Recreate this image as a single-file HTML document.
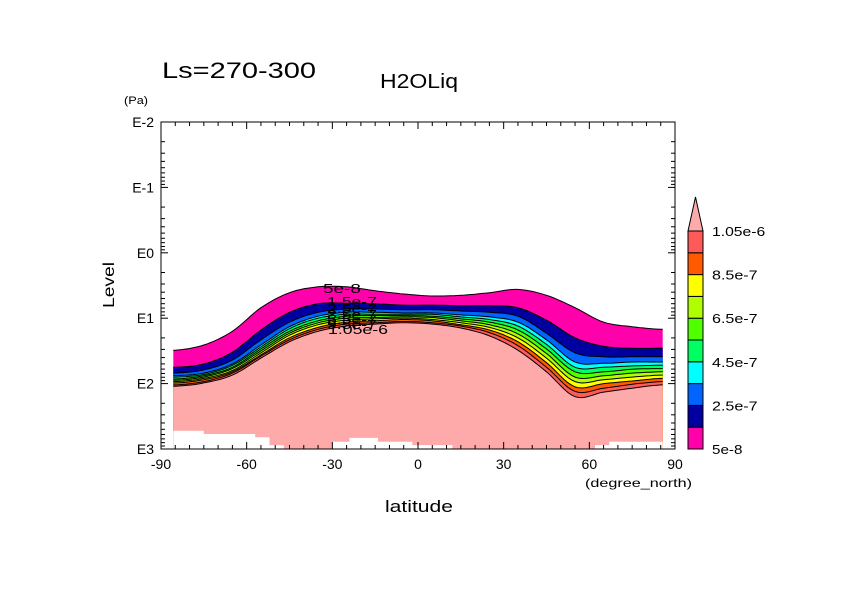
<!DOCTYPE html>
<html><head><meta charset="utf-8"><style>
html,body{margin:0;padding:0;background:#fff}
svg text{font-family:"Liberation Sans",sans-serif;fill:#000}
</style></head><body>
<svg id="chart" width="842" height="595" viewBox="0 0 842 595" xmlns="http://www.w3.org/2000/svg">
<text x="162" y="78" font-size="22" textLength="154" lengthAdjust="spacingAndGlyphs">Ls=270-300</text>
<text x="380" y="88" font-size="20" textLength="78" lengthAdjust="spacingAndGlyphs">H2OLiq</text>
<text x="124" y="104" font-size="11" textLength="24" lengthAdjust="spacingAndGlyphs">(Pa)</text>
<text x="0" y="0" font-size="16" textLength="46" lengthAdjust="spacingAndGlyphs" transform="translate(114,285) rotate(-90)" text-anchor="middle">Level</text>
<text x="385" y="512" font-size="17" textLength="68" lengthAdjust="spacingAndGlyphs">latitude</text>
<text x="585" y="487" font-size="12" textLength="107" lengthAdjust="spacingAndGlyphs">(degree_north)</text>
<g id="field"></g>
<g id="lines"></g>
<g id="labels">
<text x="323" y="293" font-size="13" textLength="38" lengthAdjust="spacingAndGlyphs">5e-8</text>
<text x="327" y="306" font-size="13" textLength="50" lengthAdjust="spacingAndGlyphs">1.5e-7</text>
<text x="327" y="313" font-size="13" textLength="50" lengthAdjust="spacingAndGlyphs">2.5e-7</text>
<text x="327" y="319" font-size="13" textLength="50" lengthAdjust="spacingAndGlyphs">3.5e-7</text>
<text x="327" y="324" font-size="13" textLength="50" lengthAdjust="spacingAndGlyphs">5.5e-7</text>
<text x="327" y="329" font-size="13" textLength="50" lengthAdjust="spacingAndGlyphs">9.5e-7</text>
<text x="328" y="334" font-size="13" textLength="60" lengthAdjust="spacingAndGlyphs">1.05e-6</text>
</g>
<rect x="161" y="122" width="514" height="327" fill="none" stroke="#000" stroke-width="1"/>
<g id="axes"></g>
<g id="cbar"></g>
</svg>
<script>
const lats = [-85,-75,-65,-55,-45,-35,-25,-15,-5,5,15,25,35,45,55,65,75,85];
// log10(Pa) of each contour level boundary (top of band)
const lev0  = [1.49,1.41,1.20,0.84,0.61,0.52,0.52,0.58,0.63,0.66,0.65,0.61,0.56,0.65,0.84,1.06,1.13,1.17];
const lev1  = [1.75,1.70,1.52,1.18,0.91,0.78,0.77,0.78,0.80,0.80,0.81,0.81,0.84,1.03,1.30,1.43,1.46,1.46];
const lev2  = [1.84,1.79,1.64,1.33,1.06,0.91,0.86,0.86,0.87,0.87,0.89,0.91,0.97,1.23,1.53,1.59,1.59,1.59];
const lev3  = [1.88,1.84,1.70,1.41,1.13,0.97,0.91,0.91,0.92,0.92,0.95,0.98,1.06,1.33,1.67,1.69,1.67,1.67];
const lev4  = [1.90,1.86,1.72,1.44,1.16,1.00,0.94,0.94,0.94,0.94,0.98,1.02,1.12,1.40,1.75,1.75,1.73,1.72];
const lev5  = [1.93,1.88,1.75,1.47,1.20,1.04,0.97,0.96,0.96,0.97,1.01,1.06,1.18,1.47,1.82,1.82,1.78,1.77];
const lev6  = [1.95,1.90,1.77,1.50,1.23,1.07,1.00,0.99,0.98,0.99,1.04,1.10,1.24,1.54,1.90,1.88,1.84,1.82];
const lev7  = [1.97,1.92,1.80,1.53,1.26,1.10,1.03,1.01,1.00,1.02,1.07,1.14,1.30,1.61,1.97,1.94,1.90,1.87];
const lev8  = [1.99,1.94,1.82,1.56,1.30,1.14,1.06,1.04,1.02,1.04,1.10,1.18,1.36,1.68,2.05,2.00,1.96,1.92];
const lev9  = [2.02,1.97,1.84,1.58,1.33,1.17,1.09,1.07,1.05,1.07,1.12,1.22,1.42,1.75,2.12,2.07,2.01,1.97];
const lev10 = [2.04,1.99,1.87,1.61,1.36,1.20,1.12,1.09,1.07,1.09,1.15,1.27,1.49,1.82,2.20,2.13,2.07,2.02];
const levelNames = ['5e-8','1.5e-7','2.5e-7','3.5e-7','4.5e-7','5.5e-7','6.5e-7','7.5e-7','8.5e-7','9.5e-7','1.05e-6'];
const colors = ['#ff00aa','#0000a0','#0064ff','#00ffff','#00ff60','#50ff00','#b0ff00','#ffff00','#ff5a00','#ff5a5a','#ffaaaa'];
// surface (topography) bottoms: lat edges and log10 Pa
const topoEdges = [-85.7,-75,-57,-52,-47,-30,-24,-14,-2,0,12,62,67,85.7];
const topoLogP  = [2.72,2.77,2.82,2.94,3.0,2.89,2.83,2.89,2.94,2.94,3.0,2.94,2.89];
const xTicks = [-90,-60,-30,0,30,60,90];
const xTickLabels = ['-90','-60','-30','0','30','60','90'];
const yTicks = [-2,-1,0,1,2,3];
const yTickLabels = ['E-2','E-1','E0','E1','E2','E3'];
const cbLabels = ['5e-8','2.5e-7','4.5e-7','6.5e-7','8.5e-7','1.05e-6'];

const levels = [lev0,lev1,lev2,lev3,lev4,lev5,lev6,lev7,lev8,lev9,lev10];
const X0=161,X1=675,Y0=122,Y1=449;
const xs = lat => X0 + (lat+90)/180*(X1-X0);
const ys = lp => Y0 + (lp+2)/5*(Y1-Y0);
const NS='http://www.w3.org/2000/svg';
function mk(tag, attrs, parent){const e=document.createElementNS(NS,tag);for(const k in attrs)e.setAttribute(k,attrs[k]);parent.appendChild(e);return e;}
const LATMIN=-85.7, LATMAX=85.7;
function curvePts(arr){
  const pts=[[xs(LATMIN),ys(arr[0])]];
  for(let i=0;i<lats.length;i++){
    if(i<lats.length-1){
      for(let t=0;t<1;t+=0.125){
        const p0=arr[Math.max(i-1,0)],p1=arr[i],p2=arr[i+1],p3=arr[Math.min(i+2,arr.length-1)];
        const v=0.5*((2*p1)+(-p0+p2)*t+(2*p0-5*p1+4*p2-p3)*t*t+(-p0+3*p1-3*p2+p3)*t*t*t);
        const la=lats[i]+(lats[i+1]-lats[i])*t;
        pts.push([xs(la),ys(v)]);
      }
    } else pts.push([xs(lats[i]),ys(arr[i])]);
  }
  pts.push([xs(LATMAX),ys(arr[arr.length-1])]);
  return pts;
}
const field=document.getElementById('field'), lines=document.getElementById('lines');
levels.forEach((arr,k)=>{
  const pts=curvePts(arr);
  const d='M'+pts.map(p=>p[0].toFixed(1)+','+p[1].toFixed(1)).join('L')+`L${xs(LATMAX)},${Y1}L${xs(LATMIN)},${Y1}Z`;
  const p=mk('path',{d:d,fill:colors[k]},field);
  
  
});
let td=`M${xs(LATMIN)},${Y1+1}`;
for(let i=0;i<topoLogP.length;i++){td+=`L${xs(topoEdges[i]).toFixed(1)},${ys(topoLogP[i]).toFixed(1)}L${xs(topoEdges[i+1]).toFixed(1)},${ys(topoLogP[i]).toFixed(1)}`;}
td+=`L${xs(LATMAX)},${Y1+1}Z`;
const tp=mk('path',{d:td,fill:'#fff'},field);


levels.forEach((arr,k)=>{
  const pts=curvePts(arr);
  const l=mk('polyline',{points:pts.map(p=>p[0].toFixed(1)+','+p[1].toFixed(1)).join(' '),fill:'none',stroke:'#000','stroke-width':1},lines);
  
  
});
const axes=document.getElementById('axes');
for(let lat=-90;lat<=90;lat+=5){
  const x=xs(lat), major=lat%30===0, len=major?7:4;
  mk('line',{x1:x,y1:Y1,x2:x,y2:Y1-len,stroke:'#000'},axes);
  mk('line',{x1:x,y1:Y0,x2:x,y2:Y0+len,stroke:'#000'},axes);
}
xTicks.forEach((v,i)=>{
  const t=mk('text',{x:xs(v),y:469,'font-size':14,'text-anchor':'middle'},axes);
  t.textContent=xTickLabels[i];
  
  
});
for(let d=-2;d<3;d++){for(let m=1;m<10;m++){
  const y=ys(d+Math.log10(m)), len=m===1?7:4;
  mk('line',{x1:X0,y1:y,x2:X0+len,y2:y,stroke:'#000'},axes);
  mk('line',{x1:X1,y1:y,x2:X1-len,y2:y,stroke:'#000'},axes);
}}
yTicks.forEach((v,i)=>{
  const t=mk('text',{x:154,y:ys(v)+5,'font-size':14,'text-anchor':'end'},axes);
  t.textContent=yTickLabels[i];
  
  
});
const cb=document.getElementById('cbar');
const cx=688,cw=15,cTop=231,cBot=449,bh=(cBot-cTop)/10;
for(let k=0;k<10;k++){
  const r=mk('rect',{x:cx,y:cBot-(k+1)*bh,width:cw,height:bh,fill:colors[k],stroke:'#000','stroke-width':1},cb);
  
  
}
const tri=mk('polygon',{points:`${cx},${cTop} ${cx+cw},${cTop} ${cx+cw/2},${cTop-34}`,fill:colors[10],stroke:'#000','stroke-width':1},cb);


cbLabels.forEach((s,i)=>{
  const t=mk('text',{x:712,y:cBot-i*2*bh+5,'font-size':13,textLength:s.length*7.6,lengthAdjust:'spacingAndGlyphs'},cb);
  t.textContent=s;
  
  
});
</script>
</body></html>
